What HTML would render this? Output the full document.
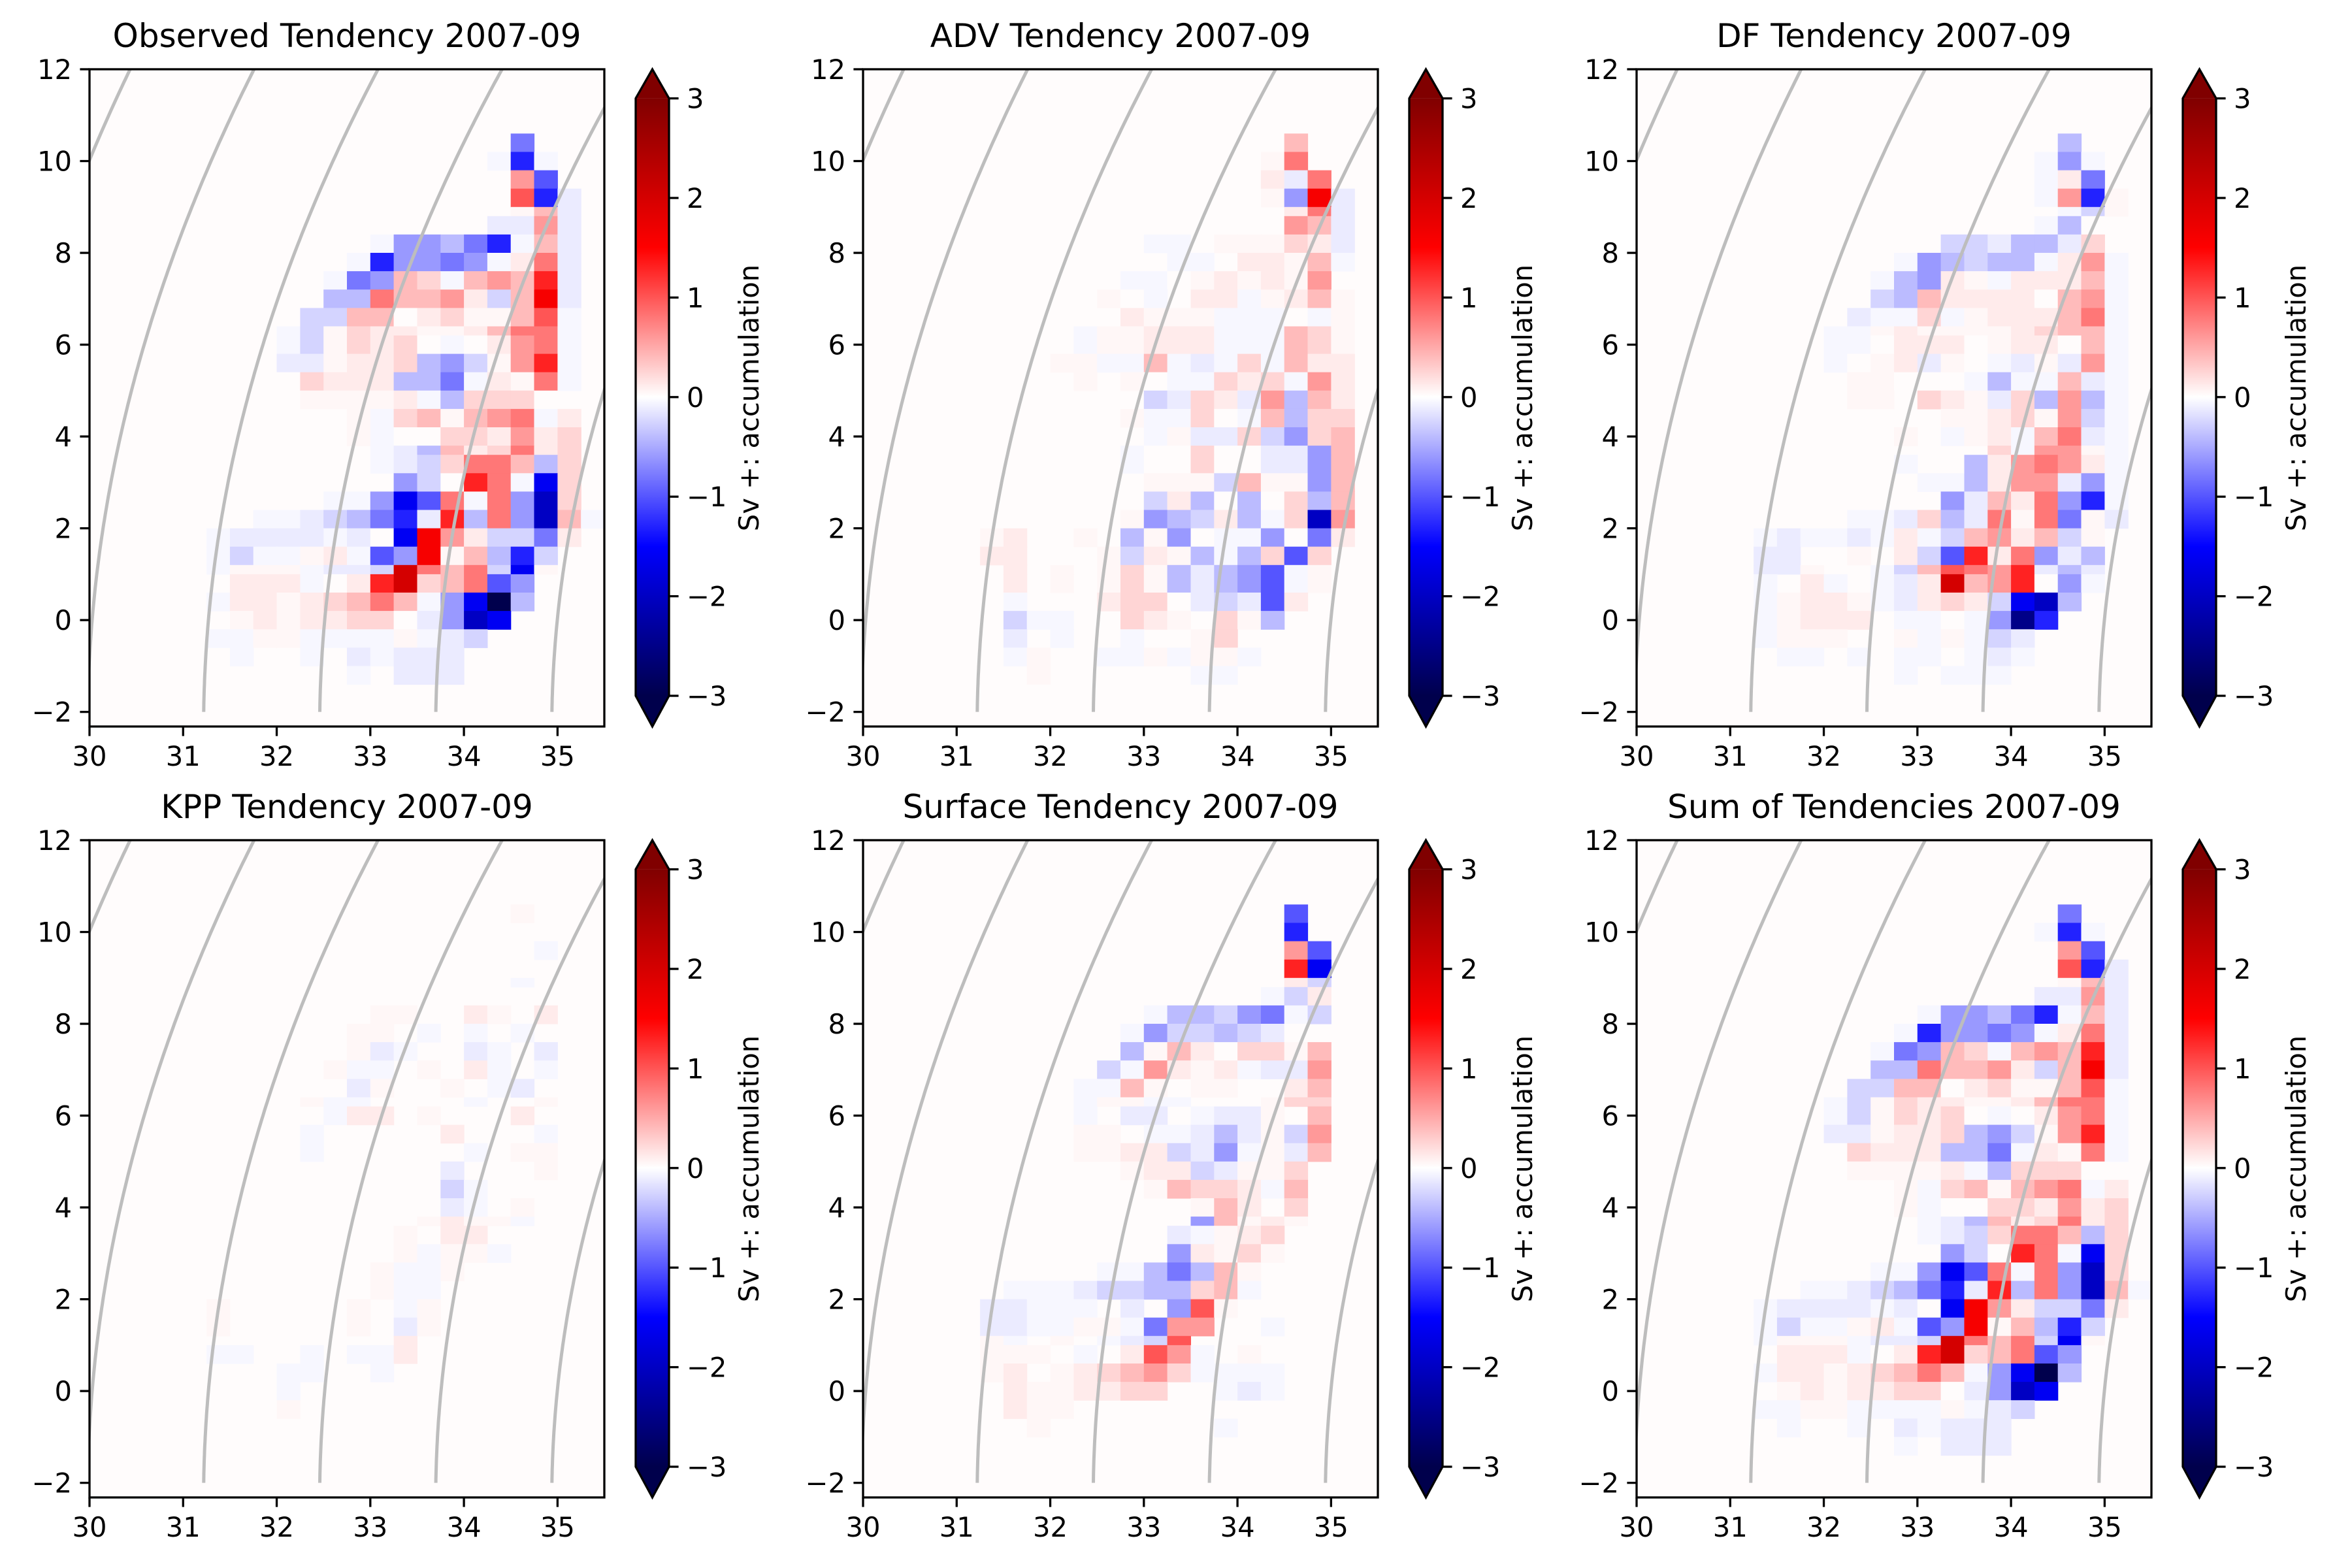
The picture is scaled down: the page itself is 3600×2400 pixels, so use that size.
<!DOCTYPE html>
<html><head><meta charset="utf-8"><style>
html,body{margin:0;padding:0;background:#fff;}
svg{display:block;}
text{font-family:"DejaVu Sans","Liberation Sans",sans-serif;fill:#000;}
</style></head>
<body>
<svg id="fig" width="3600" height="2400" viewBox="0 0 3600 2400" xmlns="http://www.w3.org/2000/svg">
<defs>
<linearGradient id="seis" x1="0" y1="1" x2="0" y2="0">
<stop offset="0" stop-color="#00004c"/><stop offset="0.25" stop-color="#0000ff"/><stop offset="0.5" stop-color="#ffffff"/><stop offset="0.75" stop-color="#ff0000"/><stop offset="1" stop-color="#800000"/>
</linearGradient>
</defs>
</svg>
<script>
const panelTitles = ["Observed Tendency 2007-09","ADV Tendency 2007-09","DF Tendency 2007-09","KPP Tendency 2007-09","Surface Tendency 2007-09","Sum of Tendencies 2007-09"];
const xTicks = [30,31,32,33,34,35];
const yTicks = [-2,0,2,4,6,8,10,12];
const cbTicks = [-3,-2,-1,0,1,2,3];
const levelValues = {a:-3,b:-2.5,c:-2,d:-1.6,e:-1.3,f:-1.0,g:-0.8,h:-0.6,i:-0.4,j:-0.25,k:-0.12,l:-0.05,m:0,n:0.05,o:0.12,p:0.25,q:0.4,r:0.6,s:0.8,t:1.0,u:1.3,v:1.6,w:2.0,x:2.5,y:3};
const colStart = 31.25, colStep = 0.25;
const yEdges = [10.6,10.2,9.8,9.4,9.0,8.8,8.4,8.0,7.6,7.2,6.8,6.4,6.2,5.8,5.4,5.0,4.6,4.2,3.8,3.6,3.2,2.8,2.4,2.0,1.6,1.2,1.0,0.6,0.2,-0.2,-0.6,-1.0,-1.4];
const curveS0 = [28.74,29.98,31.22,32.46,33.70,34.94];

const obsRows = [".............g...","............lel..",".............rf..",".............tek.",".............nqk.","............kkrk.",".......lhhigelqk.","......lehhghlosk.",".....lghqplqrquk.",".....iisqqrojqvk.","....jjqqmopnnqtl.","...ljnpoonnoqssl.","...ljnpopmlmorsl.","...kknoopihjnrul.","...mpoooiiglonsl.","....nnnnolipppm..","......nlpqnqrslo.","......nlmmpporop.",".......lkiqopsop.",".......lkjpssqip.","........hjmusldp.",".....llhdfslshcp.","..llkjigekuishcql","lkkkklkmdvrojjgo.","ljllnolfhvnqiej..","lnnnlkkjwsqsjdn..",".ooolmouwpqsfh...","loonopqsqlhdai...",".nonooppmkhcd....","llnnllllnlkj.....",".l..l.klkkk......","......l.kkk......"];
const advRows = [".............q...","............ns...","............oks..","............nhvk.",".............osk.",".............rqk.",".......ll.nnnpok.","......m.ll.oonql.","......llmnononr..",".....nml.oolnoqn.","......onnnlllmln.","....lnnooolllqpn.","....lnnooolllqpn.","...nnllqlklplqoo.","....n.nmllpoplro.",".......jkpokriqo.","......nllpmlqipp.",".......lnkkpjhpq.","......lmmpmmkkhq.","......lmmpmmkkhq.",".......nnnjqnnhq.",".......joimimpiq.","......nhijoilpcr.","no..n.inhmllhmgo.","oo...njonilipfp..",".o.n.npnikihfln..",".o.n.npnikihfln..",".l...oppmkjkfo...",".jll..pon.pni....",".k.l..l..np......",".ln..llnlnnl.....","..n......ll......"];
const dfRows = [".............i...","............lhl..","............log..","............lren.","............mljn.","............lim..","........jjkiikp..","......lhijiilorl.",".....lihonloooql.",".....jiqoooomqrl.","....kllplnoooqsl.","...llnonnnnopqql.","...llmooomnoomql.","...lmnoknmlknkrl.","....nnmmmlillqkl.","....nn.ponkpiril.","........nnopnrjl.","......n.lnolqskl.","..........plrrnl.","......l..iorsrol.",".......lliorrkhl.","........hkqoshel.","....llkpiksnsgnk.","lkllkloljqroqjn..","kk..n.ojfuoshki..","kkn..ljqtsrukik..","l.ol.lkowqrumhl..","lnoonlkopojdci...","lnooo.llmlhbe....","lnnn..nlnljk.....",".ll.l.ll.lkl.....","......l.lll......"];
const kppRows = [".............n...",".................","..............l..",".................",".............l...",".................",".......nn..on.o..","......nn.l.l.l...","......nkl..kl.k..",".....nll.n.ol.l..","......kn..n.lk...","....nll....l..n..",".....loo.n...o...","....l.....o...l..","....l......l.nn..","..........k...n..","..........jl.....","..........kl.n...",".........nonnl...","........n.oo.....","........nlnnl....",".......nlln......",".......nll.......","n.....n.ln.......","n.....n.kn.......","........o........","ll..l.llo........","...ll..l.........","...l.............","...n.............",".................","................."];
const sfcRows = [".............f...",".............e...",".............rf..",".............ud..",".............oj..","............ljo..",".......liijhglj..","......lhjjijkm...","......inqomppnq..",".....jlronolkkr..","....llqn.nn..oq..","....lnnll...npp..","....l.kk.lkkn.q..","....nn.llkiknjr..","....nnoojkhlnkq..","......noojknnp...",".......nqppolq...",".........nqo.p...",".........hqnon...","........klnop....","........honpn....",".....lligiqn.....",".lllkjjiipql.....","kklll.k.htn......","kkllnnlgrr..l....","nl.n.lkjt........","nnn.l.otrl.n.....","no.nopqrpllll....",".onnoopp..lkl....",".onn.............","..n.......l......","................."];
const sumRows = [".............g...","............lel..",".............rf..",".............tek.",".............nqk.","............kkrk.",".......lhhigelqk.","......lehhghlosk.",".....lghqplqrquk.",".....iisqqrojqvk.","....jjqqmopnnqtl.","...ljnpoonnoqssl.","...ljnpopmlmorsl.","...kknoopihjnrul.","...mpoooiiglonsl.","....nnnnolipppm..","......nlpqnqrslo.","......nlmmpporop.",".......lkiqopsop.",".......lkjpssqip.","........hjmusldp.",".....llhdfslshcp.","..llkjigekuishcql","lkkkklkmdvrojjgo.","ljllnolfhvnqiej..","lnnnlkkjwsqsjdn..",".ooolmouwpqsfh...","loonopqsqlhdai...",".nonooppmkhcd....","llnnllllnlkj.....",".l..l.klkkk......","......l.kkk......"];
const panelRows = [obsRows, advRows, dfRows, kppRows, sfcRows, sumRows];

const NS = "http://www.w3.org/2000/svg";
const svg = document.getElementById('fig');
const colX0 = [137, 1321, 2505], rowY0 = [106, 1286];
const AW = 788, AH = 1006, XMIN = 30, XMAX = 35.5, YTOP = 12, PXU_Y = 70.26;
const FS = 41.7, LW = 3.3, TL = 14.6;
function mk(tag, attrs, parent){const e=document.createElementNS(NS,tag);for(const k in attrs)e.setAttribute(k,attrs[k]);(parent||svg).appendChild(e);return e;}
function seismic(v){let t=(v+3)/6;t=Math.max(0,Math.min(1,t));let r,g,b;
 if(t<0.25){r=0;g=0;b=0.3+0.7*t/0.25;}else if(t<0.5){const f=(t-0.25)/0.25;r=f;g=f;b=1;}
 else if(t<0.75){const f=(t-0.5)/0.25;r=1;g=1-f;b=1-f;}else{const f=(t-0.75)/0.25;r=1-0.5*f;g=0;b=0;}
 if(t>=0.5&&t<0.505){g=Math.min(g,0.99);b=Math.min(b,0.99);}
 return `rgb(${Math.round(r*255)},${Math.round(g*255)},${Math.round(b*255)})`;}
function fmt(v){return v<0?"\u2212"+Math.abs(v):String(v);}

panelTitles.forEach((title,p)=>{
 const X0=colX0[p%3], Y0=rowY0[Math.floor(p/3)];
 const sx=s=>X0+(s-XMIN)*AW/(XMAX-XMIN);
 const sy=t=>Y0+(YTOP-t)*PXU_Y;
 const g=mk('g',{});
 
 
 const cid='clip'+p;
 const cp=mk('clipPath',{id:cid},g); mk('rect',{x:X0,y:Y0,width:AW,height:AH},cp);
 const bg=mk('rect',{x:X0,y:Y0,width:AW,height:AH,fill:'#fffcfc'},g);
 
 
 const cells=mk('g',{'clip-path':`url(#${cid})`},g);
 
 
 const rows=panelRows[p];
 for(let i=0;i<rows.length&&i<yEdges.length-1;i++){
  const row=rows[i];
  for(let c=0;c<row.length;c++){
   const ch=row[c]; if(!(ch in levelValues)) continue;
   const v=levelValues[ch];
   const xa=sx(colStart+c*colStep), xb=sx(colStart+(c+1)*colStep);
   const ya=sy(yEdges[i]), yb=sy(yEdges[i+1]);
   const r=mk('rect',{x:xa.toFixed(1),y:ya.toFixed(1),width:(xb-xa+0.6).toFixed(1),height:(yb-ya+0.6).toFixed(1),fill:seismic(v)},cells);
   
   
  }
 }
 const cg=mk('g',{'clip-path':`url(#${cid})`},g);
 
 
 curveS0.forEach(s0=>{
  const f=1+0.035*(s0-32.46); let d='';
  for(let k=0;k<=140;k++){const T=-2+k*0.1,u=T+2;const S=s0+f*(0.0075*u+0.0094*u*u);d+=(k?'L':'M')+sx(S).toFixed(1)+' '+sy(T).toFixed(1);}
  const pth=mk('path',{d:d,fill:'none',stroke:'#bdbdbd','stroke-width':5},cg);
  
  
 });
 const fr=mk('rect',{x:X0,y:Y0,width:AW,height:AH,fill:'none',stroke:'#000','stroke-width':LW},g);
 
 
 xTicks.forEach(v=>{const x=sx(v);
  mk('line',{x1:x,y1:Y0+AH,x2:x,y2:Y0+AH+TL,stroke:'#000','stroke-width':LW},g);
  const t=mk('text',{x:x,y:Y0+AH+60,'font-size':FS,'text-anchor':'middle'},g);t.textContent=fmt(v);
  
  });
 yTicks.forEach(v=>{const y=sy(v);
  mk('line',{x1:X0-TL,y1:y,x2:X0,y2:y,stroke:'#000','stroke-width':LW},g);
  const t=mk('text',{x:X0-27,y:y+15,'font-size':FS,'text-anchor':'end'},g);t.textContent=fmt(v);
  
  });
 const tt=mk('text',{x:X0+AW/2,y:Y0-34,'font-size':50,'text-anchor':'middle'},g);tt.textContent=title;
 
 
 const cbL=X0+836, cbR=X0+887, cbT=Y0+44.6, cbB=Y0+959, cbW=cbR-cbL;
 const cb=mk('g',{},g);
 
 
 mk('rect',{x:cbL,y:cbT,width:cbW,height:cbB-cbT,fill:'url(#seis)'},cb);
 mk('polygon',{points:`${cbL},${cbT} ${cbR},${cbT} ${(cbL+cbR)/2},${Y0}`,fill:'#800000'},cb);
 mk('polygon',{points:`${cbL},${cbB} ${cbR},${cbB} ${(cbL+cbR)/2},${Y0+AH}`,fill:'#00004c'},cb);
 mk('polygon',{points:`${cbL},${cbT} ${(cbL+cbR)/2},${Y0} ${cbR},${cbT} ${cbR},${cbB} ${(cbL+cbR)/2},${Y0+AH} ${cbL},${cbB}`,fill:'none',stroke:'#000','stroke-width':LW},cb);
 cbTicks.forEach(v=>{const y=cbB-(v+3)/6*(cbB-cbT);
  mk('line',{x1:cbR,y1:y,x2:cbR+TL,y2:y,stroke:'#000','stroke-width':LW},cb);
  const t=mk('text',{x:cbR+27,y:y+15,'font-size':FS},cb);t.textContent=fmt(v);
  
  });
 const cl=mk('text',{x:0,y:0,'font-size':FS,'text-anchor':'middle',transform:`translate(${X0+1024},${Y0+503}) rotate(-90)`},cb);
 cl.textContent='Sv +: accumulation';
 
 
});
</script>
</body></html>
